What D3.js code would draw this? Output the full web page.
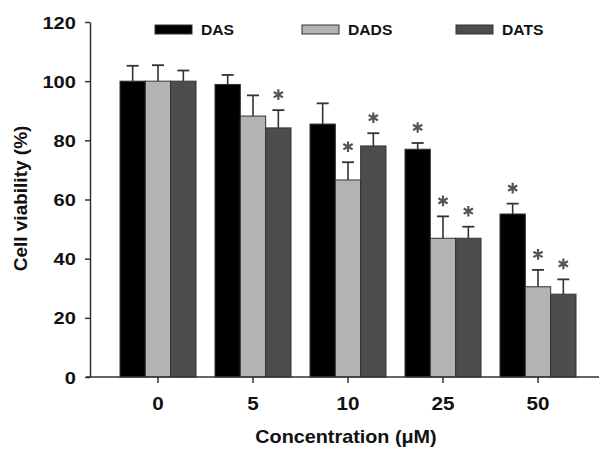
<!DOCTYPE html>
<html><head><meta charset="utf-8">
<script src="https://cdn.jsdelivr.net/npm/d3@7"></script>
<style>body{margin:0;background:#fff}svg{display:block}text{font-family:Arial,"Liberation Sans",sans-serif;font-weight:bold}</style>
</head><body><svg id="c" width="601" height="449"></svg>
<script>
const categories = ["0","5","10","25","50"];
const seriesNames = ["DAS","DADS","DATS"];
const seriesColors = ["#000000","#b3b3b3","#4d4d4d"];
const DAS = [100, 98.9, 85.5, 77.0, 55.1];
const DADS = [100, 88.2, 66.6, 46.9, 30.5];
const DATS = [100, 84.2, 78.1, 46.9, 28.0];
const DAS_err = [5.2, 3.2, 7.0, 2.1, 3.5];
const DADS_err = [5.4, 7.0, 6.0, 7.4, 5.7];
const DATS_err = [3.6, 6.0, 4.3, 3.9, 5.0];
const DAS_sig = [false, false, false, true, true];
const DADS_sig = [false, false, true, true, true];
const DATS_sig = [false, true, true, true, true];
const yTicks = [0,20,40,60,80,100,120];

const values = [DAS, DADS, DATS], errs = [DAS_err, DADS_err, DATS_err], sigs = [DAS_sig, DADS_sig, DATS_sig];
const svg = d3.select("#c");
const axisLeft = 90, axisRight = 599;
const y = d3.scaleLinear().domain([0,120]).range([377,22]);
const x = d3.scaleBand().domain(categories).range([110.5,585.5]).paddingInner(0.2).paddingOuter(0.1);
const xs = d3.scaleBand().domain(seriesNames).range([0, x.bandwidth()]);

const data = [];
categories.forEach((c,i)=>seriesNames.forEach((s,j)=>data.push({c,s,j,v:values[j][i],e:errs[j][i],sig:sigs[j][i]})));
const cx = d => x(d.c)+xs(d.s)+xs.bandwidth()/2;

const g = svg.append("g");
g.selectAll("line.err").data(data).join("line")
  .attr("x1",cx).attr("x2",cx)
  .attr("y1",d=>y(d.v)).attr("y2",d=>y(d.v+d.e)).attr("stroke","#333").attr("stroke-width",1.6);
g.selectAll("line.cap").data(data).join("line")
  .attr("x1",d=>cx(d)-6).attr("x2",d=>cx(d)+6)
  .attr("y1",d=>y(d.v+d.e)).attr("y2",d=>y(d.v+d.e)).attr("stroke","#333").attr("stroke-width",1.8);
g.selectAll("rect.bar").data(data).join("rect")
  .attr("x",d=>x(d.c)+xs(d.s)).attr("width",xs.bandwidth())
  .attr("y",d=>y(d.v)).attr("height",d=>y(0)-y(d.v))
  .attr("fill",d=>seriesColors[d.j]).attr("stroke","#333").attr("stroke-width",1);
const star = d3.symbol().type(d3.symbolAsterisk).size(80);
g.selectAll("path.sig").data(data.filter(d=>d.sig)).join("path")
  .attr("transform",d=>`translate(${cx(d)},${y(d.v+d.e)-15.5})`)
  .attr("d",star).attr("fill","none").attr("stroke","#555").attr("stroke-width",2.2);

// axes
const ya = svg.append("g").attr("transform",`translate(${axisLeft},0)`)
  .call(d3.axisLeft(y).tickValues(yTicks).tickSize(5).tickSizeOuter(0));
ya.select(".domain").attr("stroke","#333").attr("stroke-width",1.5);
ya.selectAll(".tick line").attr("stroke","#333").attr("stroke-width",1.5);
ya.selectAll(".tick text").attr("font-size",17).attr("fill","#111").attr("x",-12).attr("dy","0.36em")
  .attr("transform","scale(1.18,1)")
  .attr("font-family","Arial,'Liberation Sans',sans-serif").attr("font-weight","bold");

const xa = svg.append("g").attr("transform",`translate(0,${y(0)})`)
  .call(d3.axisBottom(x).tickSize(6).tickSizeOuter(0));
xa.select(".domain").remove();
xa.selectAll(".tick line").attr("stroke","#333").attr("stroke-width",1.5);
xa.selectAll(".tick text").attr("font-size",17.5).attr("fill","#111").attr("y",33).attr("dy",0)
  .attr("transform","scale(1.18,1)")
  .attr("font-family","Arial,'Liberation Sans',sans-serif").attr("font-weight","bold");
svg.append("line").attr("x1",axisLeft-4).attr("x2",axisRight).attr("y1",y(0)).attr("y2",y(0))
  .attr("stroke","#333").attr("stroke-width",1.5);

svg.append("text").attr("transform","translate(27,198.5) rotate(-90)").attr("text-anchor","middle")
  .attr("font-size",19).attr("fill","#111").text("Cell viability (%)");
svg.append("text").attr("transform","translate(346,443) scale(1.1,1)").attr("text-anchor","middle")
  .attr("font-size",18).attr("fill","#111").text("Concentration (μM)");

// legend
const legX = [155, 302, 456];
const leg = svg.append("g");
seriesNames.forEach((s,j)=>{
  leg.append("rect").attr("x",legX[j]).attr("y",25).attr("width",37).attr("height",9)
    .attr("fill",seriesColors[j]).attr("stroke","#333").attr("stroke-width",1);
  leg.append("text").attr("transform",`translate(${legX[j]+46},35) scale(1.08,1)`)
    .attr("font-size",14.5).attr("fill","#111").text(s);
});
</script></body></html>
